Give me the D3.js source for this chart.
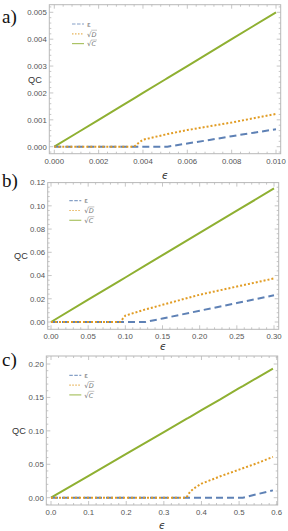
<!DOCTYPE html>
<html><head><meta charset="utf-8">
<script src="https://cdn.jsdelivr.net/npm/d3@7"></script>
<style>body{margin:0;background:#fff}svg{display:block}</style>
</head><body>
<script>
// ---- data ----
const aEps = [0, 0.001, 0.002, 0.003, 0.0036, 0.0038, 0.004, 0.005, 0.0051, 0.006, 0.007, 0.008, 0.009, 0.010];
const aE   = [0, 0, 0, 0, 0, 0, 0, 0, 0, 0.00012, 0.00025, 0.00039, 0.00052, 0.00065];
const aD   = [0, 0, 0, 0, 0, 0.00014, 0.00026, 0.00045, 0.00047, 0.00062, 0.00076, 0.0009, 0.00106, 0.00122];
const aC   = [0, 0.0005, 0.001, 0.0015, 0.0018, 0.0019, 0.002, 0.0025, 0.00255, 0.003, 0.0035, 0.004, 0.0045, 0.005];
const aXTicks = [0, 0.002, 0.004, 0.006, 0.008, 0.010];
const aYTicks = [0, 0.001, 0.002, 0.003, 0.004, 0.005];

const bEps = [0, 0.05, 0.093, 0.10, 0.127, 0.15, 0.20, 0.25, 0.30];
const bE   = [0, 0, 0, 0, 0, 0.003, 0.0097, 0.0163, 0.023];
const bD   = [0, 0, 0, 0.0055, 0.0108, 0.0148, 0.0235, 0.0305, 0.0375];
const bC   = [0, 0.0192, 0.0356, 0.0383, 0.0487, 0.0575, 0.0767, 0.0958, 0.115];
const bXTicks = [0, 0.05, 0.10, 0.15, 0.20, 0.25, 0.30];
const bYTicks = [0, 0.02, 0.04, 0.06, 0.08, 0.10, 0.12];

const cEps = [0, 0.1, 0.2, 0.3, 0.36, 0.365, 0.37, 0.38, 0.40, 0.45, 0.50, 0.51, 0.55, 0.59];
const cE   = [0, 0, 0, 0, 0, 0, 0, 0, 0, 0, 0, 0, 0.0055, 0.011];
const cD   = [0, 0, 0, 0, 0, 0.005, 0.009, 0.014, 0.021, 0.032, 0.042, 0.044, 0.052, 0.061];
const cC   = [0, 0.0327, 0.0654, 0.098, 0.118, 0.1194, 0.121, 0.1243, 0.131, 0.147, 0.164, 0.167, 0.180, 0.193];
const cXTicks = [0, 0.1, 0.2, 0.3, 0.4, 0.5, 0.6];
const cYTicks = [0, 0.05, 0.10, 0.15, 0.20];

const seriesNames = ["ε", "D", "C"];
const panelLetters = ["a)", "b)", "c)"];

// ---- layout ----
const W = 288, H = 531;
const colors = {E: "#5e81b5", D: "#e19c24", C: "#8fb032"};
const svg = d3.select("body").append("svg").attr("width", W).attr("height", H);

const panels = [
  {eps: aEps, E: aE, D: aD, C: aC, xt: aXTicks, yt: aYTicks, xf: ".3f", yf: ".3f",
   xd: [0, 0.010], yd: [0, 0.005], xr: [54.3, 276], yr: [146.7, 12.3],
   frame: [49.3, 4.7, 280.7, 153.7], letterY: 23, qcX: 35, epsY: 178.5, legY: 24, legX: 72},
  {eps: bEps, E: bE, D: bD, C: bC, xt: bXTicks, yt: bYTicks, xf: ".2f", yf: ".2f",
   xd: [0, 0.30], yd: [0, 0.12], xr: [51, 274], yr: [322, 182.6],
   frame: [47.7, 182.6, 278.7, 329.3], letterY: 187, qcX: 21, epsY: 350, legY: 200.7, legX: 69.3},
  {eps: cEps, E: cE, D: cD, C: cC, xt: cXTicks, yt: cYTicks, xf: ".1f", yf: ".2f",
   xd: [0, 0.6], yd: [0, 0.20], xr: [51, 276.7], yr: [497.7, 364],
   frame: [46.3, 356, 277.7, 505], letterY: 366, qcX: 19, epsY: 529, legY: 375.3, legX: 69.3}
];

panels.forEach((p, i) => {
  const g = svg.append("g");
  const x = d3.scaleLinear().domain(p.xd).range(p.xr);
  const y = d3.scaleLinear().domain(p.yd).range(p.yr);
  const [fx0, fy0, fx1, fy1] = p.frame;

  // frame
  g.append("rect").attr("x", fx0).attr("y", fy0).attr("width", fx1 - fx0).attr("height", fy1 - fy0)
    .attr("fill", "none").attr("stroke", "#b8b8b8").attr("stroke-width", 1);

  // ticks (major + minor) on all sides
  const xStep = p.xt[1] - p.xt[0], yStep = p.yt[1] - p.yt[0];
  const xMinor = d3.range(-1, (p.xt.length) * 5 + 1).map(k => k * xStep / 5).filter(v => x(v) > fx0 + 0.5 && x(v) < fx1 - 0.5);
  const yMinor = d3.range(-1, (p.yt.length) * 5 + 1).map(k => k * yStep / 5).filter(v => y(v) < fy1 - 0.5 && y(v) > fy0 + 0.5);
  const tk = g.append("g").attr("stroke", "#b8b8b8").attr("stroke-width", 0.8);
  xMinor.forEach(v => {
    const major = p.xt.some(t => Math.abs(t - v) < xStep / 50);
    const L = major ? 4 : 2;
    tk.append("line").attr("x1", x(v)).attr("x2", x(v)).attr("y1", fy1).attr("y2", fy1 - L);
    tk.append("line").attr("x1", x(v)).attr("x2", x(v)).attr("y1", fy0).attr("y2", fy0 + L);
  });
  yMinor.forEach(v => {
    const major = p.yt.some(t => Math.abs(t - v) < yStep / 50);
    const L = major ? 4 : 2;
    tk.append("line").attr("y1", y(v)).attr("y2", y(v)).attr("x1", fx0).attr("x2", fx0 + L);
    tk.append("line").attr("y1", y(v)).attr("y2", y(v)).attr("x1", fx1).attr("x2", fx1 - L);
  });

  // tick labels
  const tl = g.append("g").attr("font-family", "Liberation Sans, Arial, sans-serif").attr("font-size", 7.8).attr("fill", "#555");
  p.xt.forEach(v => tl.append("text").attr("x", x(v)).attr("y", fy1 + 10).attr("text-anchor", "middle").text(d3.format(p.xf)(v)));
  p.yt.forEach(v => tl.append("text").attr("x", fx0 - 2.5).attr("y", y(v) + 2.8).attr("text-anchor", "end").text(d3.format(p.yf)(v)));

  // axis labels
  g.append("text").attr("x", p.qcX).attr("y", (fy0 + fy1) / 2 + 3.3).attr("text-anchor", "middle")
    .attr("font-family", "Liberation Sans, Arial, sans-serif").attr("font-size", 9.2).attr("fill", "#333").text("QC");
  g.append("text").attr("x", (fx0 + fx1) / 2).attr("y", p.epsY).attr("text-anchor", "middle")
    .attr("font-family", "DejaVu Sans, sans-serif").attr("font-style", "italic").attr("font-size", 10).attr("fill", "#333").text("ϵ");
  g.append("text").attr("x", 2).attr("y", p.letterY).attr("font-family", "Liberation Serif, Times New Roman, serif")
    .attr("font-size", 19).attr("fill", "#111").text(panelLetters[i]);

  // lines
  const clip = "clip" + i;
  svg.append("clipPath").attr("id", clip).append("rect").attr("x", fx0).attr("y", fy0).attr("width", fx1 - fx0).attr("height", fy1 - fy0);
  const mk = vals => d3.line().x((d, k) => x(p.eps[k])).y(d => y(d))(vals);
  const lg = g.append("g").attr("clip-path", `url(#${clip})`).attr("fill", "none").attr("stroke-width", 2);
  lg.append("path").attr("d", mk(p.C)).attr("stroke", colors.C);
  lg.append("path").attr("d", mk(p.E)).attr("stroke", colors.E).attr("stroke-dasharray", "7,4");
  lg.append("path").attr("d", mk(p.D)).attr("stroke", colors.D).attr("stroke-dasharray", "2,2");

  // legend
  const styles = [
    {c: colors.E, dash: "3.5,1.5"},
    {c: colors.D, dash: "1.5,1.5"},
    {c: colors.C, dash: null}
  ];
  styles.forEach((s, k) => {
    const ly = p.legY + k * 9.8;
    const ln = g.append("line").attr("x1", p.legX).attr("x2", p.legX + 12).attr("y1", ly).attr("y2", ly)
      .attr("stroke", s.c).attr("stroke-width", 1.2).attr("opacity", 0.75);
    if (s.dash) ln.attr("stroke-dasharray", s.dash);
    const tx = p.legX + 15;
    if (k === 0) {
      g.append("text").attr("x", tx).attr("y", ly + 2.5).attr("font-family", "DejaVu Sans, sans-serif")
        .attr("font-size", 7).attr("fill", "#777").text(seriesNames[0]);
    } else {
      const t = g.append("text").attr("x", tx).attr("y", ly + 2.8).attr("font-family", "DejaVu Sans, sans-serif")
        .attr("font-size", 7).attr("fill", "#777");
      t.append("tspan").text("√");
      t.append("tspan").attr("font-style", "italic").attr("font-size", 6.5).text(seriesNames[k]);
      g.append("line").attr("x1", tx + 4.2).attr("x2", tx + 10).attr("y1", ly - 3.6).attr("y2", ly - 3.6)
        .attr("stroke", "#888").attr("stroke-width", 0.5);
    }
  });
});
</script>
</body></html>
